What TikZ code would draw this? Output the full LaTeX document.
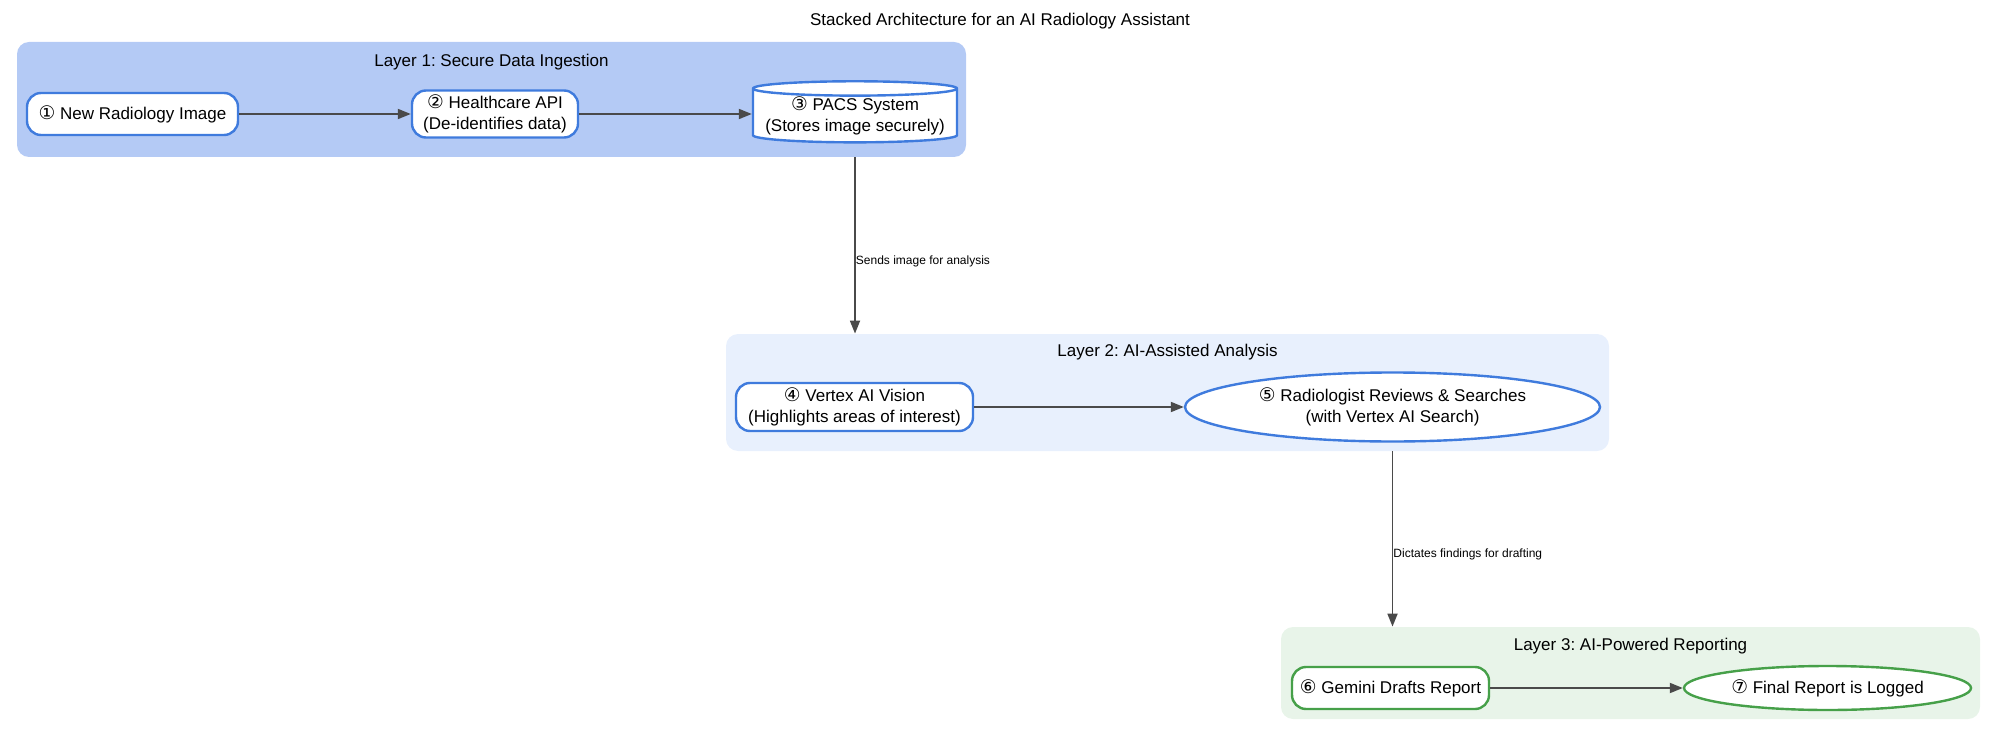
\documentclass[tikz,border=0pt]{standalone}
\usepackage{fontspec}
\setmainfont{Liberation Sans}
\newfontfamily\symfont[Scale=1.1]{DejaVu Sans}
\usepackage{xcolor}
\usetikzlibrary{shapes.geometric,arrows.meta}
\frenchspacing

\definecolor{layerA}{HTML}{B4CAF5}
\definecolor{layerB}{HTML}{E8F0FD}
\definecolor{layerC}{HTML}{E8F4E9}
\definecolor{blueline}{HTML}{3F7BDD}
\definecolor{greenline}{HTML}{46A049}
\definecolor{arrowgray}{HTML}{4A4A4A}

\newcommand{\badge}[1]{{\symfont #1}}

\begin{document}
\begin{tikzpicture}[x=0.5pt, y=-0.5pt, font=\fontsize{8.5}{10.5}\selectfont,
    layer/.style={rounded corners=6pt, inner sep=0pt},
    box/.style={draw=blueline, line width=1.2pt, fill=white, rounded corners=7pt, align=center, inner sep=0pt},
    oval/.style={ellipse, draw=blueline, line width=1.2pt, fill=white, align=center, inner sep=0pt},
    flow/.style={draw=arrowgray, line width=0.9pt, -{Triangle[length=6.5pt,width=5pt]}},
    note/.style={font=\fontsize{6}{7}\selectfont, anchor=west, inner sep=0pt}] % etiquetas de las flechas entre capas
\useasboundingbox (0,0) rectangle (2000,743);

\node (title) at (1000,21) {Stacked Architecture for an AI Radiology Assistant};

% capas
\node[layer, fill=layerA, minimum width=474.5pt, minimum height=57.5pt] (L1) at (491.5,99.5) {};
\node[layer, fill=layerB, minimum width=441.5pt, minimum height=58.5pt] (L2) at (1167.5,392.5) {};
\node[layer, fill=layerC, minimum width=349.5pt, minimum height=46pt] (L3) at (1630.5,673) {};
\node[yshift=-10.5pt] (lab1) at (L1.north) {Layer 1: Secure Data Ingestion};
\node[yshift=-9.5pt] (lab2) at (L2.north) {Layer 2: AI-Assisted Analysis};
\node[yshift=-9.5pt] (lab3) at (L3.north) {Layer 3: AI-Powered Reporting};

% capa 1
\node[box, minimum width=105.5pt, minimum height=21pt] (n1) at (132.5,114) {\badge{①} New Radiology Image};
\node[box, minimum width=83pt, minimum height=23.5pt] (n2) at (495,114) {\badge{②} Healthcare API\\(De-identifies data)};
\node[cylinder, shape border rotate=90, aspect=0.08, draw=blueline, line width=1.2pt, fill=white,
    align=center, inner sep=0pt, minimum width=102pt, minimum height=30pt] (n3) at (855,116)
    {\badge{③} PACS System\\(Stores image securely)};

% capa 2
\node[box, minimum width=118.5pt, minimum height=24pt] (n4) at (854.5,407) {\badge{④} Vertex AI Vision\\(Highlights areas of interest)};
\node[oval, minimum width=207.5pt, minimum height=34.5pt] (n5) at (1392.5,407) {\badge{⑤} Radiologist Reviews \& Searches\\(with Vertex AI Search)};

% capa 3
\node[box, draw=greenline, minimum width=98.5pt, minimum height=21pt] (n6) at (1390.5,688) {\badge{⑥} Gemini Drafts Report};
\node[oval, draw=greenline, minimum width=143.5pt, minimum height=22pt] (n7) at (1827.5,688) {\badge{⑦} Final Report is Logged};

\draw[flow] (n1) -- (n2);
\draw[flow] (n2) -- (n2 -| n3.west);
\draw[flow] (n4) -- (n5);
\draw[flow] (n6) -- (n7);
\draw[flow] (L1.south -| n3) -- node[note, pos=0.59] {Sends image for analysis} (L2.north -| n3);
\draw[flow] (L2.south -| n5) -- node[note, pos=0.59] {Dictates findings for drafting} (L3.north -| n5);
\end{tikzpicture}
\end{document}
